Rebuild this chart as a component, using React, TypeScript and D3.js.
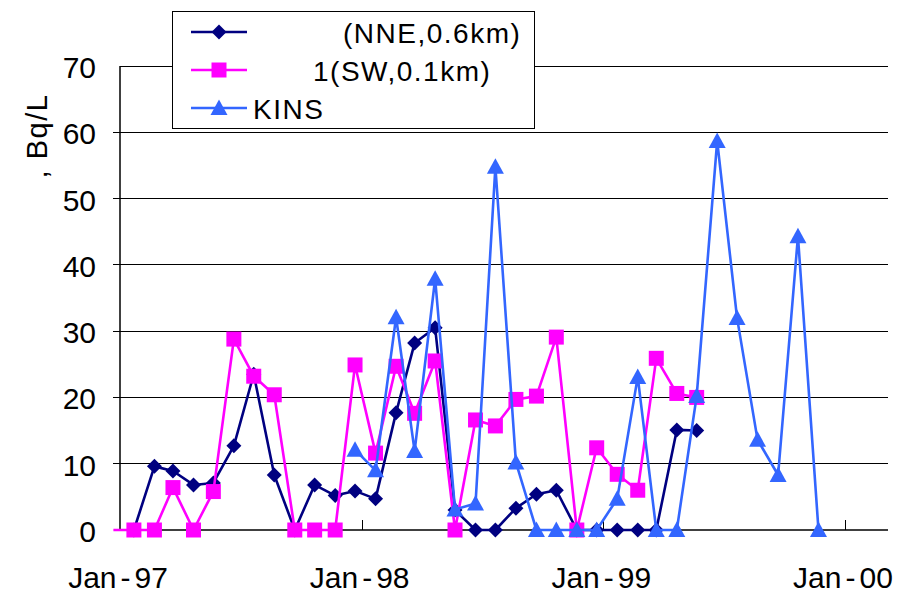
import React from 'react';
import * as d3 from 'd3';

// sampling dates: one sample around the 22nd of each month, Dec-96 .. Nov-99
const sampleDates = d3.range(36).map(i => new Date(1996, 11 + i, 22));

// Bq/L values per month (null = no sample)
const nneValues = [
  null, 0, 9.6, 8.9, 6.8, 7.1, 12.7, 23.5, 8.3, 0, 6.8, 5.2,
  5.9, 4.7, 17.7, 28.2, 30.5, 3.0, 0, 0, 3.3, 5.4, 6.0, 0,
  0, 0, 0, 0, 15.1, 15.0, null, null, null, null, null, null,
];
const swValues = [
  0, 0, 0, 6.4, 0, 5.8, 28.8, 23.2, 20.4, 0, 0, 0,
  24.9, 11.6, 24.7, 17.6, 25.5, 0, 16.6, 15.7, 19.7, 20.2, 29.1, 0,
  12.4, 8.4, 6.0, 25.9, 20.6, 20.0, null, null, null, null, null, null,
];
const kinsValues = [
  null, null, null, null, null, null, null, null, null, null, null, null,
  12.1, 9.0, 32.1, 11.9, 37.9, 3.1, 4.0, 54.8, 10.2, 0, 0, 0,
  0, 4.7, 23.1, 0, 0, 20.2, 58.7, 32.0, 13.6, 8.3, 44.3, 0,
];

const seriesNames = ['(NNE,0.6km)', '1(SW,0.1km)', 'KINS'];
const seriesColors = ['#000080', '#FF00FF', '#3366FF'];
const seriesMarkers = ['diamond', 'square', 'triangle'];
const yTicks = [0, 10, 20, 30, 40, 50, 60, 70];
const xTickYears = [1997, 1998, 1999, 2000];
const yTitle = ', Bq/L';

const W = 903;
const H = 597;
const plot = { left: 120, right: 888, top: 66, bottom: 530 };

const x = d3.scaleTime()
  .domain([new Date(1997, 0, 1), new Date(2000, 2, 6)])
  .range([plot.left, plot.right]);
const y = d3.scaleLinear().domain([0, 70]).range([plot.bottom, plot.top]);

const markerPath = (type: string) => {
  if (type === 'diamond') return 'M0,-7.5L7.5,0L0,7.5L-7.5,0Z';
  if (type === 'square') return 'M-7.5,-7.5H7.5V7.5H-7.5Z';
  return 'M0,-8.5L8.5,7L-8.5,7Z';
};

const fmtTick = (yr: number) => ['Jan', String(yr).slice(2)];

export default function App() {
  const allValues = [nneValues, swValues, kinsValues];
  const line = d3.line<number | null>()
    .defined(d => d != null)
    .x((_, i) => x(sampleDates[i]))
    .y(d => y(d as number));
  const start = x.domain()[0];
  const font = '"Liberation Sans", Arial, sans-serif';

  return (
    <svg width={W} height={H} style={{ position: 'absolute', left: 0, top: 0, background: '#fff' }}
      fontFamily={font}>
      {/* gridlines */}
      {yTicks.filter(t => t > 0).map(t => (
        <line key={t} x1={plot.left} x2={plot.right} y1={y(t)} y2={y(t)}
          stroke="#000" strokeWidth={1} shapeRendering="crispEdges" />
      ))}
      {/* y ticks outward */}
      {yTicks.filter(t => t > 0 && t < 70).map(t => (
        <line key={'yt' + t} x1={plot.left - 7} x2={plot.left} y1={y(t)} y2={y(t)}
          stroke="#000" strokeWidth={1} shapeRendering="crispEdges" />
      ))}
      {/* axes */}
      <line x1={plot.left} x2={plot.left} y1={plot.top} y2={plot.bottom} stroke="#000" strokeWidth={1.5} />
      <line x1={plot.left} x2={plot.right} y1={plot.bottom} y2={plot.bottom} stroke="#000" strokeWidth={1.5} />
      {xTickYears.slice(1).map(yr => {
        const tx = Math.round(x(new Date(yr, 0, 1)));
        return <line key={yr} x1={tx} x2={tx} y1={plot.bottom} y2={plot.bottom - 10}
          stroke="#000" strokeWidth={1} shapeRendering="crispEdges" />;
      })}
      {/* y tick labels */}
      {yTicks.map(t => (
        <text key={'yl' + t} x={96} y={y(t) + 12} textAnchor="end" fontSize={30}>{t}</text>
      ))}
      {/* x tick labels */}
      {xTickYears.map(yr => {
        const [m, yy] = fmtTick(yr);
        return (
          <text key={'xl' + yr} x={x(new Date(yr, 0, 1)) - 2} y={588} textAnchor="middle" fontSize={30}>
            {m}<tspan dx={4}>-</tspan><tspan dx={4}>{yy}</tspan>
          </text>
        );
      })}
      {/* y title */}
      <text transform="translate(47,136) rotate(-90)" textAnchor="middle" fontSize={29} letterSpacing={1.5}>
        {yTitle}
      </text>
      {/* series */}
      {allValues.map((vals, si) => (
        <g key={si}>
          <path d={line(vals) || ''} fill="none" stroke={seriesColors[si]} strokeWidth={2.6}
            strokeLinejoin="round" />
          {vals.map((v, i) => (v == null || sampleDates[i] < start) ? null : (
            <path key={i} d={markerPath(seriesMarkers[si])}
              transform={`translate(${x(sampleDates[i])},${y(v)})`}
              fill={seriesColors[si]} />
          ))}
        </g>
      ))}
      {/* legend */}
      <g>
        <rect x={172.5} y={11.5} width={362} height={117} fill="#fff" stroke="#000" strokeWidth={1} />
        {seriesNames.map((name, i) => {
          const cy = 32 + i * 38;
          const textX = [343, 313, 253][i];
          return (
            <g key={name}>
              <line x1={191} x2={247} y1={cy} y2={cy} stroke={seriesColors[i]} strokeWidth={2.6} />
              <path d={markerPath(seriesMarkers[i])} transform={`translate(219,${cy})`} fill={seriesColors[i]} />
              <text x={textX} y={cy + 11} fontSize={28} letterSpacing={1.5}>{name}</text>
            </g>
          );
        })}
      </g>
    </svg>
  );
}
